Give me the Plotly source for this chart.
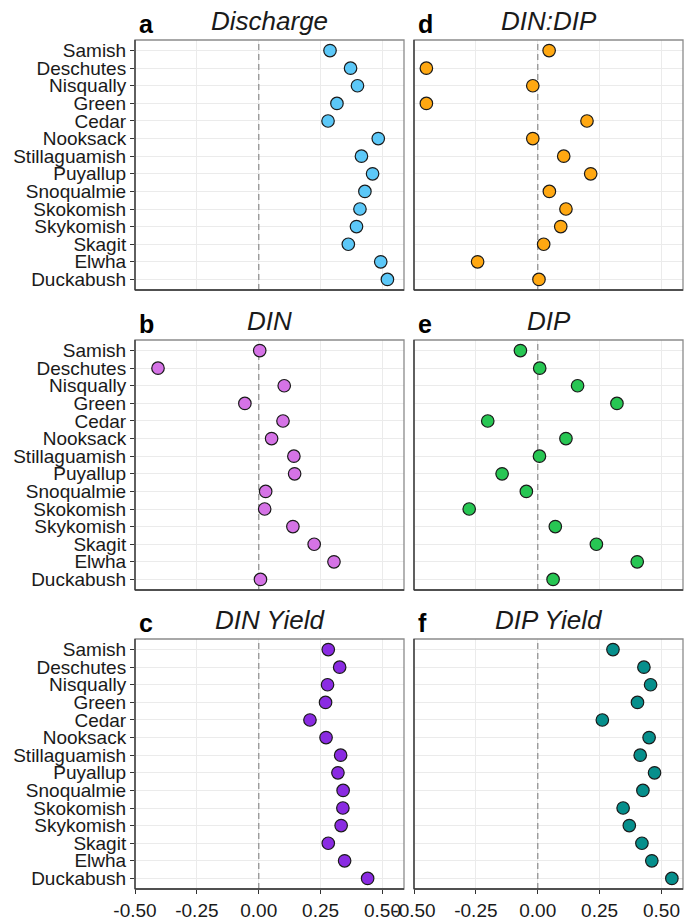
import plotly.graph_objects as go

rivers = ["Samish", "Deschutes", "Nisqually", "Green", "Cedar", "Nooksack",
          "Stillaguamish", "Puyallup", "Snoqualmie", "Skokomish", "Skykomish",
          "Skagit", "Elwha", "Duckabush"]

discharge = [0.288, 0.371, 0.399, 0.316, 0.280, 0.483, 0.415, 0.460, 0.429,
             0.409, 0.395, 0.362, 0.493, 0.520]
din = [0.004, -0.407, 0.103, -0.056, 0.098, 0.052, 0.142, 0.145, 0.028,
       0.024, 0.138, 0.224, 0.304, 0.007]
din_yield = [0.281, 0.327, 0.278, 0.270, 0.207, 0.272, 0.331, 0.320, 0.341,
             0.340, 0.333, 0.281, 0.347, 0.440]
din_dip = [0.046, -0.450, -0.020, -0.450, 0.199, -0.020, 0.105, 0.214, 0.047,
           0.114, 0.093, 0.024, -0.243, 0.005]
dip = [-0.070, 0.008, 0.161, 0.320, -0.202, 0.114, 0.007, -0.144, -0.046,
       -0.277, 0.071, 0.237, 0.402, 0.062]
dip_yield = [0.304, 0.429, 0.456, 0.403, 0.261, 0.450, 0.414, 0.472, 0.425,
             0.345, 0.370, 0.421, 0.461, 0.542]

x_ticks = [-0.5, -0.25, 0.0, 0.25, 0.5]
x_tick_labels = ["-0.50", "-0.25", "0.00", "0.25", "0.50"]

panels = [
    # letter, title, values, colour, column, row
    ("a", "Discharge", discharge, "#5CC8F8", 0, 0),
    ("b", "DIN", din, "#D573E6", 0, 1),
    ("c", "DIN Yield", din_yield, "#8A2BE2", 0, 2),
    ("d", "DIN:DIP", din_dip, "#FFA812", 1, 0),
    ("e", "DIP", dip, "#27C653", 1, 1),
    ("f", "DIP Yield", dip_yield, "#068F8C", 1, 2),
]

W, H = 684, 921
col_px = [(135, 404), (414, 683)]
row_px = [(40, 290), (340, 590), (639, 889)]
xr = [-0.5, 0.587]
n = len(rivers)
yr = [n + 0.6, 0.4]  # reversed: first river on top
ypos = list(range(1, n + 1))

FONT = "Liberation Sans, Arial, sans-serif"
fig = go.Figure()
layout = dict(
    width=W, height=H, margin=dict(l=0, r=0, t=0, b=0, autoexpand=False),
    paper_bgcolor="white", plot_bgcolor="white", showlegend=False,
    font=dict(family=FONT, color="#1a1a1a"),
)
annotations = []
shapes = []

for i, (letter, title, vals, colour, c, r) in enumerate(panels):
    k = i + 1
    xa = "xaxis" if k == 1 else f"xaxis{k}"
    ya = "yaxis" if k == 1 else f"yaxis{k}"
    xref = "x" if k == 1 else f"x{k}"
    yref = "y" if k == 1 else f"y{k}"
    x0, x1 = col_px[c]
    y0, y1 = row_px[r]
    layout[xa] = dict(
        domain=[x0 / W, x1 / W], range=xr, anchor=yref, automargin=False,
        tickvals=x_ticks, ticktext=x_tick_labels,
        showticklabels=(r == 2), ticks="outside" if r == 2 else "",
        ticklen=4, tickcolor="#333333", tickwidth=1,
        tickfont=dict(size=19, color="#1a1a1a"),
        showgrid=True, gridcolor="#EBEBEB", gridwidth=1.4,
        zeroline=False, showline=False,
    )
    layout[ya] = dict(
        domain=[1 - y1 / H, 1 - y0 / H], range=yr, anchor=xref, automargin=False,
        tickvals=ypos, ticktext=rivers,
        showticklabels=(c == 0), ticks="outside" if c == 0 else "",
        ticklen=4, tickcolor="#333333", tickwidth=1,
        tickfont=dict(size=19, color="#1a1a1a"),
        showgrid=True, gridcolor="#EBEBEB", gridwidth=1.4,
        zeroline=False, showline=False,
    )
    # dashed zero reference line (drawn beneath the points)
    fig.add_trace(go.Scatter(
        x=[0, 0], y=yr, mode="lines", xaxis=xref, yaxis=yref,
        line=dict(color="#999999", width=1.4, dash="6px,4px"),
        hoverinfo="skip",
    ))
    # panel border
    shapes.append(dict(type="rect", xref="paper", yref="paper",
                       x0=x0 / W, x1=x1 / W, y0=1 - y1 / H, y1=1 - y0 / H,
                       layer="above", line=dict(color="#8C8C8C", width=1.3)))
    # darker axis lines (left and bottom)
    shapes.append(dict(type="line", xref="paper", yref="paper",
                       x0=x0 / W, x1=x0 / W, y0=1 - y1 / H, y1=1 - y0 / H,
                       layer="above", line=dict(color="#333333", width=1.3)))
    shapes.append(dict(type="line", xref="paper", yref="paper",
                       x0=x0 / W, x1=x1 / W, y0=1 - y1 / H, y1=1 - y1 / H,
                       layer="above", line=dict(color="#333333", width=1.3)))
    fig.add_trace(go.Scatter(
        x=vals, y=ypos, mode="markers", xaxis=xref, yaxis=yref,
        marker=dict(size=12.5, color=colour,
                    line=dict(color="#1a1a1a", width=1.2)),
        cliponaxis=False,
    ))
    annotations.append(dict(
        text=f"<i>{title}</i>", xref="paper", yref="paper",
        x=(x0 + x1) / 2 / W, y=1 - (y0 - 19) / H, xanchor="center",
        yanchor="middle", showarrow=False,
        font=dict(size=26, family=FONT, color="#1a1a1a")))
    annotations.append(dict(
        text=f"<b>{letter}</b>", xref="paper", yref="paper",
        x=(x0 + 2) / W, y=1 - (y0 - 16) / H, xanchor="left",
        yanchor="middle", showarrow=False,
        font=dict(size=25, family=FONT, color="#000000")))

layout["annotations"] = annotations
layout["shapes"] = shapes
fig.update_layout(**layout)
fig.write_html("out.html")
